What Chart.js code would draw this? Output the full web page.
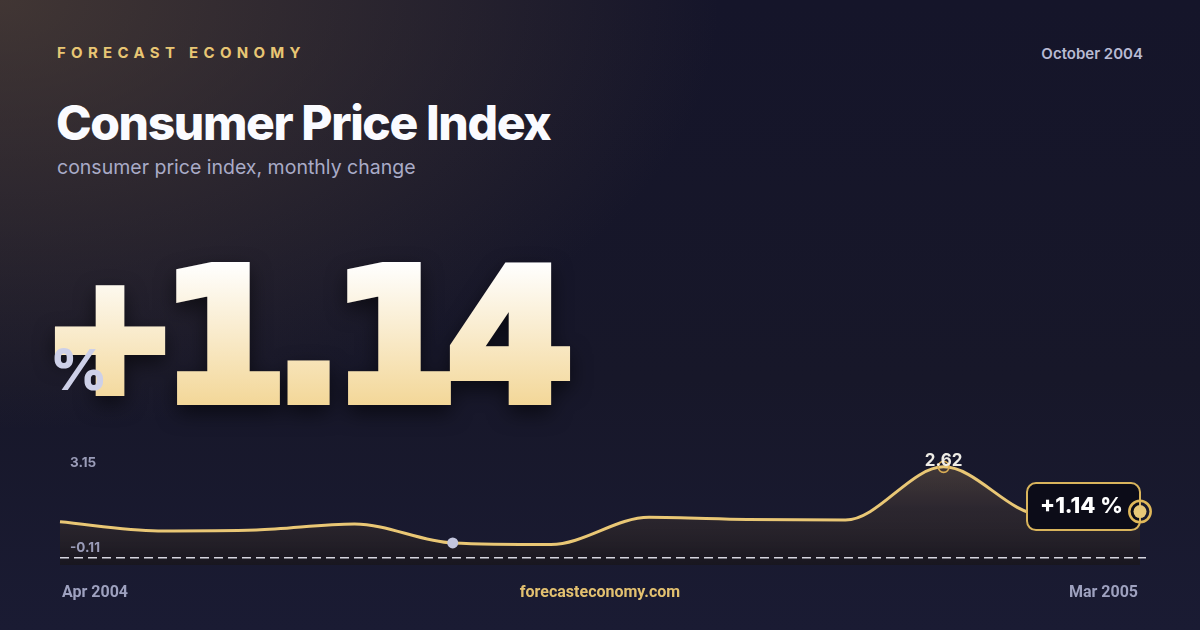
<!DOCTYPE html>
<html><head><meta charset="utf-8">
<script src="https://cdn.jsdelivr.net/npm/chart.js@4.4.1/dist/chart.umd.min.js"></script>
<style>
html,body{margin:0;padding:0;}
body{width:1200px;height:630px;overflow:hidden;position:relative;font-family:Inter,"Noto Sans",sans-serif;
background:
 radial-gradient(ellipse 720px 430px at 0 0, rgba(92,74,58,0.62), rgba(92,74,58,0) 100%),
 linear-gradient(180deg,#15152a 0%,#171729 60%,#1a1b33 100%);}
.brand{position:absolute;left:57px;top:45px;font-size:15px;line-height:15px;font-weight:700;letter-spacing:5.3px;color:#e8c674;white-space:nowrap;}
.date{position:absolute;right:57px;top:46px;font-size:15px;line-height:15px;font-weight:600;color:#b8bad3;white-space:nowrap;}
h1{position:absolute;left:56px;top:99px;margin:0;font-size:48px;line-height:48px;font-weight:800;color:#fafbff;letter-spacing:-1.4px;white-space:nowrap;}
.sub{position:absolute;left:57px;top:158px;font-size:19.5px;line-height:19.5px;color:#a9abc7;white-space:nowrap;}
#big{position:absolute;left:0;top:0;width:700px;height:440px;overflow:visible;filter:drop-shadow(0 8px 10px rgba(0,0,0,0.55));}
.pct{position:absolute;left:50px;top:342px;font-size:56px;line-height:56px;font-weight:800;color:#cdd0e8;}
.ax{position:absolute;left:70px;font-size:13.5px;line-height:13.5px;font-weight:700;color:#9a9cb8;}
.foot{position:absolute;top:584px;font-family:"Liberation Sans Narrow","Roboto",sans-serif;font-size:16px;line-height:16px;font-weight:700;white-space:nowrap;}
#wrap{position:absolute;left:40px;top:430px;width:1120px;height:140px;}
</style></head>
<body>
<div class="brand">FORECAST ECONOMY</div>
<div class="date">October 2004</div>
<h1>Consumer Price Index</h1>
<div class="sub">consumer price index, monthly change</div>
<svg id="big" viewBox="0 0 700 440" xmlns="http://www.w3.org/2000/svg">
  <defs>
    <linearGradient id="g" gradientUnits="userSpaceOnUse" x1="0" y1="262" x2="0" y2="405">
      <stop offset="0" stop-color="#ffffff"/>
      <stop offset="1" stop-color="#f3d798"/>
    </linearGradient>
  </defs>
  <g font-family="DejaVu Sans" font-weight="700" text-anchor="middle" fill="url(#g)" stroke="url(#g)" stroke-width="10" stroke-linejoin="miter">
    <text x="110" y="391" font-size="160">+</text>
    <text x="224 308.5 395 510" y="400" font-size="182">1.14</text>
  </g>
</svg>
<div class="pct">%</div>
<div id="wrap"><canvas id="c" width="1120" height="140"></canvas></div>
<div class="ax" style="top:456px">3.15</div>
<div class="ax" style="top:541px">-0.11</div>
<div class="foot" style="left:62px;color:#9ea1bf">Apr 2004</div>
<div class="foot" style="left:0;width:1200px;text-align:center;color:#e3c170">forecasteconomy.com</div>
<div class="foot" style="right:62px;color:#9ea1bf">Mar 2005</div>
<script>
const months = ["Apr 2004","May 2004","Jun 2004","Jul 2004","Aug 2004","Sep 2004","Oct 2004","Nov 2004","Dec 2004","Jan 2005","Feb 2005","Mar 2005"];
const cpiChange = [0.80, 0.50, 0.53, 0.73, 0.10, 0.05, 0.95, 0.88, 0.86, 2.62, 1.03, 1.14];
const yMin = -0.63;
const yMax = 3.51;
const baselineValue = -0.39;
const markIndex = 4;
const latestLabel = "+1.14 %";

const overlay = {
  id:'overlay',
  afterDatasetsDraw(chart){
    const ctx = chart.ctx, meta = chart.getDatasetMeta(0), pts = meta.data;
    const ys = chart.scales.y, a = chart.chartArea;
    ctx.save();
    ctx.strokeStyle='rgba(235,235,245,0.9)'; ctx.lineWidth=1.5; ctx.setLineDash([9,5]);
    const by = ys.getPixelForValue(baselineValue);
    ctx.beginPath(); ctx.moveTo(a.left, by); ctx.lineTo(a.right+6, by); ctx.stroke();
    ctx.restore();
    let mi = 0; cpiChange.forEach((v,i)=>{ if(v>cpiChange[mi]) mi=i; });
    const p = pts[mi];
    ctx.save();
    ctx.strokeStyle='#d9ad55'; ctx.lineWidth=1.6;
    ctx.beginPath(); ctx.arc(p.x,p.y,5.5,0,Math.PI*2); ctx.stroke();
    ctx.font='700 17px Inter'; ctx.fillStyle='rgba(250,248,240,0.95)';
    ctx.textAlign='center'; ctx.textBaseline='middle';
    ctx.fillText(cpiChange[mi].toFixed(2), p.x, p.y-5.5);
    ctx.restore();
    const g = pts[markIndex];
    ctx.save(); ctx.fillStyle='#c3c6de';
    ctx.beginPath(); ctx.arc(g.x,g.y,5.5,0,Math.PI*2); ctx.fill(); ctx.restore();
    const l = pts[pts.length-1];
    ctx.save();
    const bx=l.x-113, bw=113, byy=l.y-28.5, bh=47;
    ctx.beginPath(); ctx.roundRect(bx,byy,bw,bh,9);
    ctx.fillStyle='#0c0c18'; ctx.fill();
    ctx.strokeStyle='#d9b45c'; ctx.lineWidth=2; ctx.stroke();
    ctx.font='800 22px Inter'; ctx.fillStyle='#ffffff'; ctx.textAlign='center'; ctx.textBaseline='middle';
    ctx.fillText(latestLabel, bx+bw/2-2, byy+bh/2);
    ctx.strokeStyle='#e0b85a'; ctx.lineWidth=2.5;
    ctx.beginPath(); ctx.arc(l.x,l.y,10.7,0,Math.PI*2); ctx.stroke();
    ctx.fillStyle='#e8c878';
    ctx.beginPath(); ctx.arc(l.x,l.y,6.5,0,Math.PI*2); ctx.fill();
    ctx.restore();
  }
};

new Chart(document.getElementById('c'),{
  type:'line',
  data:{labels:months,datasets:[{
    data:cpiChange,
    borderColor:'#e9c775',borderWidth:3,
    cubicInterpolationMode:'monotone',
    pointRadius:0,
    fill:'start',
    clip:false,
    backgroundColor(c){
      const a=c.chart.chartArea; if(!a) return 'rgba(0,0,0,0)';
      const gr=c.chart.ctx.createLinearGradient(0,a.top,0,a.bottom);
      gr.addColorStop(0,'rgba(140,115,82,0.45)');
      gr.addColorStop(0.55,'rgba(60,50,48,0.55)');
      gr.addColorStop(1,'rgba(24,22,30,0.92)');
      return gr;
    }
  }]},
  options:{
    responsive:false,animation:false,
    layout:{padding:{left:20,right:20,top:10,bottom:5}},
    plugins:{legend:{display:false},tooltip:{enabled:false}},
    scales:{
      x:{display:false},
      y:{display:false,min:yMin,max:yMax}
    }
  },
  plugins:[overlay]
});
</script>
</body></html>
